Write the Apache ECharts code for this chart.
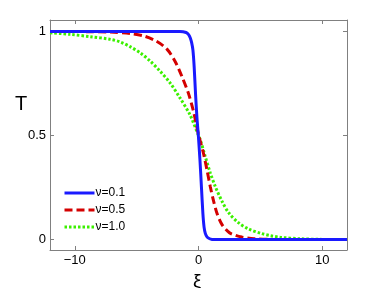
<!DOCTYPE html>
<html>
<head>
<meta charset="utf-8">
<script src="https://cdn.jsdelivr.net/npm/echarts@6/dist/echarts.min.js"></script>
<style>html,body{margin:0;padding:0;background:#fff}#c{width:383px;height:288px}</style>
</head>
<body>
<div id="c"></div>
<script>
// ν = 0.1 (blue, solid)
var xiA = [-12, -1.5, -1.0, -0.8, -0.67, -0.55, -0.45, -0.35, -0.24, -0.12, 0, 0.12, 0.24, 0.35, 0.45, 0.55, 0.7, 0.9, 1.1, 1.5, 12];
var tA  = [1, 1, 0.995, 0.985, 0.97, 0.945, 0.91, 0.83, 0.70, 0.58, 0.49, 0.38, 0.25, 0.13, 0.06, 0.03, 0.012, 0.004, 0.001, 0, 0];
// ν = 0.5 (red, dashed)
var xiB = [-12, -9, -7.1, -5.5, -4.4, -3.4, -2.55, -1.9, -1.35, -0.8, -0.4, -0.2, 0, 0.2, 0.4, 0.7, 0.95, 1.2, 1.5, 1.9, 2.5, 3.0, 3.5, 4.5, 6, 8, 12];
var tB  = [1.0, 0.999, 0.997, 0.99, 0.978, 0.953, 0.915, 0.857, 0.785, 0.70, 0.615, 0.56, 0.505, 0.46, 0.415, 0.33, 0.255, 0.19, 0.125, 0.072, 0.033, 0.02, 0.012, 0.004, 0.001, 0, 0];
// ν = 1.0 (green, dotted)
var xiC = [-12, -10.4, -8.75, -7.1, -6.3, -5.5, -4.7, -3.9, -3.1, -2.3, -1.5, -0.7, 0, 0.14, 0.54, 0.95, 1.35, 1.9, 2.45, 3.25, 4.05, 5.1, 5.8, 6.6, 8.2, 10, 12];
var tC  = [0.994, 0.986, 0.975, 0.962, 0.949, 0.926, 0.897, 0.857, 0.809, 0.753, 0.681, 0.601, 0.50, 0.48, 0.40, 0.321, 0.256, 0.184, 0.128, 0.08, 0.051, 0.029, 0.019, 0.011, 0.004, 0.001, 0];

var seriesNames = ['ν=0.1', 'ν=0.5', 'ν=1.0'];
var xTicks = [-10, 0, 10];
var xTickLabels = ['−10', '0', '10'];
var yTicks = [0, 0.5, 1];
var yTickLabels = ['0', '0.5', '1'];

function pairs(xs, ys) { return xs.map(function (x, i) { return [x, ys[i]]; }); }

var axisCol = '#808080';
var font = 'Liberation Sans, Arial, sans-serif';

function xAx(pos, show) {
  return {
    type: 'value', position: pos, min: -12, max: 12,
    axisLine: { show: true, onZero: false, lineStyle: { color: axisCol, width: 1 } },
    axisTick: { show: true, inside: true, length: 4, customValues: xTicks, lineStyle: { color: axisCol } },
    axisLabel: { show: show, customValues: xTicks, color: '#000', fontSize: 13, fontFamily: font, margin: 4,
      formatter: function (v) { return xTickLabels[xTicks.indexOf(v)]; } },
    splitLine: { show: false }
  };
}
function yAx(pos, show) {
  return {
    type: 'value', position: pos, min: -0.05, max: 1.055,
    axisLine: { show: true, onZero: false, lineStyle: { color: axisCol, width: 1 } },
    axisTick: { show: true, inside: true, length: 4, customValues: yTicks, lineStyle: { color: axisCol } },
    axisLabel: { show: show, customValues: yTicks, color: '#000', fontSize: 13, fontFamily: font, margin: 4,
      formatter: function (v) { return yTickLabels[yTicks.indexOf(v)]; } },
    splitLine: { show: false }
  };
}

var chart = echarts.init(document.getElementById('c'), null, { renderer: 'canvas' });
chart.setOption({
  animation: false,
  backgroundColor: '#fff',
  grid: { left: 50, right: 36, top: 20, bottom: 38, containLabel: false },
  xAxis: [xAx('bottom', true), xAx('top', false)],
  yAxis: [yAx('left', true), yAx('right', false)],
  legend: {
    orient: 'vertical', left: 58, top: 182, itemWidth: 30, itemHeight: 12, itemGap: 5,
    itemStyle: { opacity: 0 },
    lineStyle: { width: 3 },
    textStyle: { fontSize: 12, fontFamily: font, color: '#000', padding: [0, 0, 0, -4] },
    data: seriesNames
  },
  graphic: [
    { type: 'text', left: 15, top: 94, style: { text: 'T', fontSize: 20, fontFamily: font, fill: '#000' } },
    { type: 'text', left: 193, top: 272, style: { text: 'ξ', fontSize: 19, fontFamily: font, fill: '#000' } }
  ],
  series: [
    { name: seriesNames[2], type: 'line', symbol: 'none', z: 2, data: pairs(xiC, tC), smooth: 0.3,
      lineStyle: { color: '#3cf000', width: 3, type: [2.5, 2] }, itemStyle: { color: '#3cf000' } },
    { name: seriesNames[1], type: 'line', symbol: 'none', z: 3, data: pairs(xiB, tB), smooth: 0.3,
      lineStyle: { color: '#d40000', width: 3, type: [8, 4] }, itemStyle: { color: '#d40000' } },
    { name: seriesNames[0], type: 'line', symbol: 'none', z: 4, data: pairs(xiA, tA), smooth: 0.2,
      lineStyle: { color: '#1a1aff', width: 3 }, itemStyle: { color: '#1a1aff' } }
  ]
});
</script>
</body>
</html>
